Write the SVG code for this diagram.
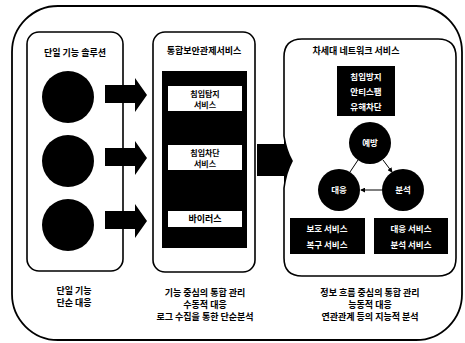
<svg xmlns="http://www.w3.org/2000/svg" width="465" height="343" viewBox="0 0 465 343">
<defs>
<style>
.t{font-family:"Noto Sans CJK KR","Noto Sans",sans-serif;font-weight:bold;font-size:9px;fill:#000;text-anchor:middle}
.s{font-size:8px}
.w{font-family:"Noto Sans CJK KR","Noto Sans",sans-serif;font-weight:bold;font-size:8.5px;fill:#fff;text-anchor:middle}
.p{fill:#fff;stroke:#000;stroke-width:1.6}
.lab{fill:#fff}
.conn{stroke:#000;stroke-width:1;fill:none}
</style>
<marker id="ah" viewBox="0 0 6 6" refX="5" refY="3" markerWidth="5" markerHeight="5" orient="auto">
<path d="M0 0L6 3L0 6Z" fill="#000"/>
</marker>
</defs>
<rect width="465" height="343" fill="#fff"/>
<rect id="outer" x="12" y="6" width="450" height="334" rx="46" ry="46" fill="none" stroke="#000" stroke-width="1.8"/>

<g id="panel-single">
<rect class="p" x="27" y="32" width="96" height="239" rx="12"/>
<text class="t" x="75" y="56">단일 기능 솔루션</text>
<circle cx="68" cy="97" r="26" fill="#000"/>
<circle cx="68" cy="161" r="26" fill="#000"/>
<circle cx="68" cy="225" r="26" fill="#000"/>
<text class="t" x="74" y="294">단일 기능</text>
<text class="t" x="74" y="306">단순 대응</text>
</g>

<g id="panel-integrated">
<rect class="p" x="153" y="32" width="102" height="240" rx="12"/>
<text class="t" x="204" y="54">통합보안관제서비스</text>
<rect x="162" y="71" width="85" height="177" fill="#000"/>
<rect class="lab" x="168" y="86" width="74" height="25"/>
<text class="t s" x="205" y="97">침입탐지</text>
<text class="t s" x="205" y="108">서비스</text>
<rect class="lab" x="168" y="145" width="74" height="25"/>
<text class="t s" x="205" y="156">침입차단</text>
<text class="t s" x="205" y="167">서비스</text>
<rect class="lab" x="168" y="211" width="74" height="16"/>
<text class="t" x="205" y="222">바이러스</text>
<text class="t" x="205" y="296">기능 중심의 통합 관리</text>
<text class="t" x="205" y="308">수동적 대응</text>
<text class="t" x="205" y="320">로그 수집을 통한 단순분석</text>
</g>

<g id="panel-next">
<path class="p" d="M302 39H438Q456 39 456 57V258Q456 276 438 276H302Q284 276 284 258V188Q286 172 292 161Q286 150 284 136V57Q284 39 302 39Z"/>
<path d="M284 136Q286 150 292 161Q286 172 284 188Z" fill="#000"/>
<text class="t" x="356" y="54">차세대 네트워크 서비스</text>
<rect x="337" y="66" width="58" height="50" fill="#000"/>
<text class="w" x="366" y="80">침입방지</text>
<text class="w" x="366" y="95">안티스팸</text>
<text class="w" x="366" y="110">유해차단</text>
<circle cx="370" cy="143" r="21" fill="#000"/>
<text class="w" x="370" y="146">예방</text>
<circle cx="339" cy="190" r="21" fill="#000"/>
<text class="w" x="339" y="193">대응</text>
<circle cx="403" cy="190" r="21" fill="#000"/>
<text class="w" x="403" y="193">분석</text>
<rect x="290" y="218" width="75" height="36" fill="#000"/>
<text class="w" x="327" y="232">보호 서비스</text>
<text class="w" x="327" y="248">복구 서비스</text>
<rect x="374" y="218" width="74" height="36" fill="#000"/>
<text class="w" x="411" y="232">대응 서비스</text>
<text class="w" x="411" y="248">분석 서비스</text>
<text class="t" x="370" y="296">정보 흐름 중심의 통합 관리</text>
<text class="t" x="370" y="308">능동적 대응</text>
<text class="t" x="370" y="320">연관관계 등의 지능적 분석</text>
</g>

<g id="connectors">
<path d="M105 85H135V78L147 95L135 112V103H105Z" fill="#000"/>
<path d="M105 148H135V141L147 158L135 175V166H105Z" fill="#000"/>
<path d="M105 211H135V204L147 221L135 238V229H105Z" fill="#000"/>
<rect x="257" y="144" width="28" height="32" fill="#000"/>
<line class="conn" x1="383" y1="160" x2="392" y2="172" marker-end="url(#ah)"/>
<line class="conn" x1="382" y1="190" x2="361" y2="190" marker-end="url(#ah)"/>
<line class="conn" x1="350" y1="172" x2="358" y2="160"/>
</g>
</svg>
